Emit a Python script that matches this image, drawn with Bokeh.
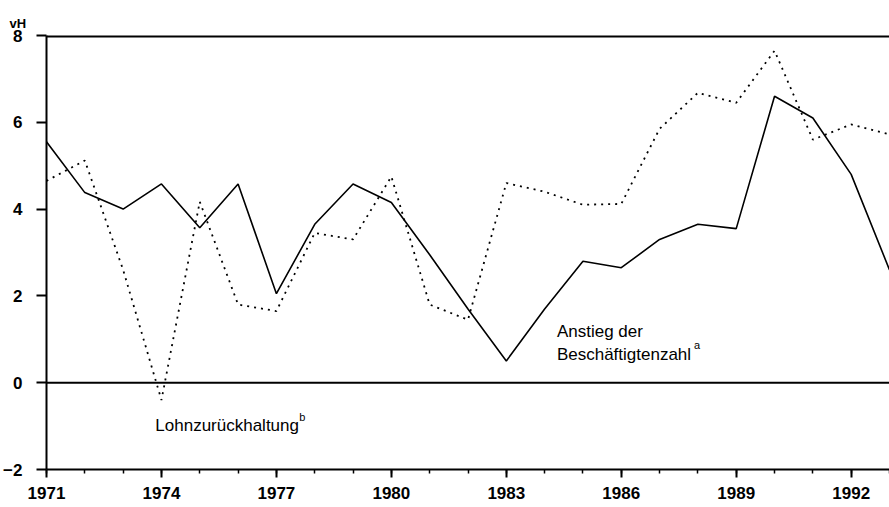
from bokeh.plotting import figure
from bokeh.models import SingleIntervalTicker, FixedTicker, Span, Label, ColumnDataSource, Range1d
from bokeh.embed import file_html
from bokeh.resources import INLINE

years = list(range(1971, 1994))
beschaeftigte = [5.55, 4.38, 4.0, 4.58, 3.57, 4.58, 2.05, 3.65, 4.58, 4.15, 2.95, 1.7,
                 0.5, 1.7, 2.8, 2.65, 3.3, 3.65, 3.55, 6.6, 6.1, 4.8, 2.6]
lohn = [4.65, 5.12, 2.6, -0.4, 4.17, 1.8, 1.65, 3.45, 3.3, 4.75, 1.8, 1.45,
        4.6, 4.4, 4.1, 4.12, 5.85, 6.68, 6.45, 7.65, 5.6, 5.95, 5.72]
x_ticks = [1971, 1974, 1977, 1980, 1983, 1986, 1989, 1992]
y_ticks = [-2, 0, 2, 4, 6, 8]

FONT = "Liberation Sans"

src = ColumnDataSource(dict(year=years, b=beschaeftigte, l=lohn))

p = figure(width=889, height=507, output_backend="svg", toolbar_location=None,
           x_range=Range1d(1971, 1993), y_range=Range1d(-2, 8),
           min_border_left=45, min_border_right=0, min_border_top=35, min_border_bottom=38)
p.outline_line_color = None
p.grid.visible = False

p.title.text = "vH"
p.title.align = "left"
p.title.offset = -37
p.title.standoff = 9
p.title.text_font = FONT
p.title.text_font_size = "13px"
p.title.text_font_style = "bold"
p.title.text_color = "black"

p.line("year", "b", source=src, line_color="black", line_width=1.6)
p.line("year", "l", source=src, line_color="black", line_width=1.8, line_dash="2 5")

p.add_layout(Span(location=0, dimension="width", line_color="black", line_width=2))
p.add_layout(Span(location=8, dimension="width", line_color="black", line_width=4))

xa = p.xaxis[0]
xa.ticker = SingleIntervalTicker(interval=3, num_minor_ticks=3)
xa.axis_line_width = 2
xa.major_tick_line_width = 2
xa.minor_tick_line_width = 1.5
xa.major_tick_in = 0
xa.major_tick_out = 8
xa.minor_tick_in = 0
xa.minor_tick_out = 4
xa.major_label_standoff = 9
xa.major_label_text_font = FONT
xa.major_label_text_font_style = "bold"
xa.major_label_text_font_size = "17px"
xa.major_label_text_color = "black"

ya = p.yaxis[0]
ya.ticker = FixedTicker(ticks=y_ticks, minor_ticks=[])
ya.axis_line_width = 2
ya.major_tick_line_width = 2
ya.major_tick_in = 0
ya.major_tick_out = 10
ya.major_label_standoff = 14
ya.major_label_text_font = FONT
ya.major_label_text_font_style = "bold"
ya.major_label_text_font_size = "17px"
ya.major_label_text_color = "black"

def lab(x, y, t, size="17px", xo=0, yo=0, style="normal"):
    p.add_layout(Label(x=x, y=y, text=t, x_offset=xo, y_offset=yo, text_font=FONT,
                       text_font_size=size, text_font_style=style,
                       text_baseline="alphabetic", text_color="black"))

lab(1973.84, -0.99, "Lohnzurückhaltung")
lab(1973.84, -0.99, "b", size="11px", xo=144, yo=9)
lab(1984.32, 1.18, "Anstieg  der")
lab(1984.32, 0.65, "Beschäftigtenzahl")
lab(1984.32, 0.65, "a", size="11px", xo=137, yo=9)

open("out.html", "w").write(file_html(p, INLINE))
